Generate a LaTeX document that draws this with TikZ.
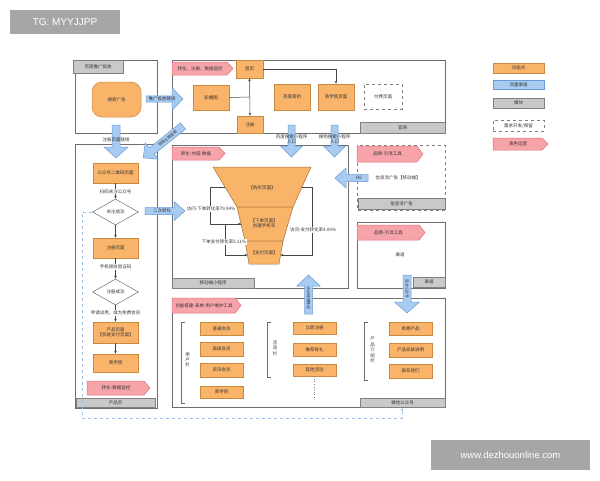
\documentclass[tikz,border=0pt]{standalone}
\usepackage{fontspec}
\newfontfamily\cjk{Noto Sans CJK SC}
\newfontfamily\wmfont{Liberation Sans}
\usetikzlibrary{arrows.meta,shapes.geometric}
\definecolor{ofill}{HTML}{F9B46A}
\definecolor{obord}{HTML}{C98A40}
\definecolor{bfill}{HTML}{A8CBF2}
\definecolor{bbord}{HTML}{6A9BD3}
\definecolor{gfill}{HTML}{C9C9C9}
\definecolor{gbord}{HTML}{7F7F7F}
\definecolor{pfill}{HTML}{F6A4A9}
\definecolor{pbord}{HTML}{E0707B}
\definecolor{framec}{HTML}{6E6E6E}
\definecolor{dashblue}{HTML}{9DBFE6}
\definecolor{txtc}{HTML}{333333}
\definecolor{connc}{HTML}{444444}
\definecolor{wmgrey}{HTML}{A6A6A6}
\tikzset{
 frame/.style={draw=framec, line width=0.6pt},
 obx/.style={draw=obord, fill=ofill, line width=0.5pt, inner sep=0.5pt, align=center, text=txtc},
 gbx/.style={draw=gbord, fill=gfill, line width=0.5pt, inner sep=0pt, text=txtc},
 bbx/.style={draw=bbord, fill=bfill, line width=0.5pt, inner sep=0pt, text=txtc},
 dbx/.style={draw=gbord, dashed, line width=0.6pt, fill=white, inner sep=0pt, text=txtc},
 ptg/.style={draw=pbord, fill=pfill, line width=0.5pt},
 bar/.style={draw=bbord, fill=bfill, line width=0.5pt},
 lbl/.style={inner sep=0.5pt, text=txtc, align=center},
 wlbl/.style={lbl, fill=white},
 conn/.style={draw=connc, line width=0.5pt, -{Stealth[length=3pt,width=2.6pt]}},
 dconn/.style={draw=connc, line width=0.5pt, {Stealth[length=3pt,width=2.6pt]}-{Stealth[length=3pt,width=2.6pt]}},
 plain/.style={draw=connc, line width=0.5pt},
 dia/.style={diamond, draw=framec, fill=white, line width=0.5pt, inner sep=0pt, minimum width=46, minimum height=26, text=txtc},
 brk/.style={draw=framec, line width=0.6pt},
 funnel/.style={draw=obord!80!black, fill=ofill, line width=0.5pt},
 wm/.style={fill=wmgrey, text=white, inner sep=0pt, font=\wmfont},
}
\newcommand\obox[6]{\node[obx, minimum width={#4-#2}, minimum height={#5-#3}] (#1) at ({(#2+#4)/2},{(#3+#5)/2}) {#6};}
\newcommand\gbox[6]{\node[gbx, minimum width={#4-#2}, minimum height={#5-#3}] (#1) at ({(#2+#4)/2},{(#3+#5)/2}) {#6};}
\newcommand\ptag[6]{\draw[ptg] (#2,#3) -- ({#4-6},#3) -- (#4,{(#3+#5)/2}) -- ({#4-6},#5) -- (#2,#5) -- cycle;
 \node[lbl] (#1) at ({(#2+#4-5)/2},{(#3+#5)/2}) {#6};}
\newcommand\barrow[7]{%
 \begin{scope}[shift={(#2,#3)},rotate=#4]
 \draw[bar] (0,-#6) -- ({#5-11},-#6) -- ({#5-11},-#7) -- (#5,0) -- ({#5-11},#7) -- ({#5-11},#6) -- (0,#6) -- cycle;
 \coordinate (#1) at ({#5/2},0);
 \end{scope}}
\newcommand\brak[4]{\draw[brk] ({#2+4},#3) -- (#2,#3) -- (#2,#4) -- ({#2+4},#4);\coordinate (#1) at (#2,#3);}
\begin{document}
\begin{tikzpicture}[x=1pt,y=-1pt,font=\cjk\fontsize{4.5}{5.4}\selectfont]
\useasboundingbox[fill=white] (0,0) rectangle (600,480);

% watermarks
\node[wm, minimum width=110, minimum height=24, font=\wmfont\fontsize{10}{12}\selectfont] (wm1) at (65,22) {TG: MYYJJPP};
\node[wm, minimum width=159, minimum height=30, font=\wmfont\fontsize{9.5}{11}\selectfont] (wm2) at (510.5,455) {www.dezhouonline.com};

% ===== legend
\obox{lg1}{493}{63}{544}{73}{功能点}
\node[bbx, minimum width=51, minimum height=9] (lg2) at (518.5,84.5) {流量渠道};
\gbox{lg3}{493}{98}{544}{108}{模块}
\node[dbx, minimum width=51, minimum height=11] (lg4) at (518.5,125.5) {需求开发/保留};
\ptag{lg5}{493}{138}{548}{150}{角色运营}

% ===== box 1
\draw[frame] (75,60) rectangle (157,133);
\gbox{t1}{73}{60}{123}{73}{百度推广投放}
\node[obx, rounded corners=10pt, minimum width=49, minimum height=35] (ad) at (116.5,99.5) {搜索广告};

% ===== box 2 (官网)
\draw[frame] (172,60) rectangle (445,133);
\gbox{t2}{360}{122}{445}{133}{官网}
\ptag{p2}{172}{62}{233}{75}{转化、注册、数据监控}
\obox{home}{236}{60}{263}{78}{首页}
\obox{lunbo}{193}{85}{229}{110}{轮播图}
\obox{reg}{237}{116}{263}{133}{注册}
\obox{shq}{274}{84}{310}{110}{百度商桥}
\obox{sxy}{318}{84}{354}{110}{商学院页面}
\node[dbx, minimum width=38, minimum height=25] (pay) at (383,96.5) {付费页面};
\coordinate (jn) at (250,97);
\draw[plain] (lunbo.east) -- (jn);
\draw[dconn] (home.south) -- (reg.north);
\draw[conn] (home.east) -| (sxy.north);

% ===== box 3 (产品页)
\draw[frame] (75,144) rectangle (157,408);
\gbox{t3}{76}{398}{155}{407}{产品页}
\obox{qr}{93}{163}{138}{183}{公众号二维码页面}
\node[dia] (d1) at (115.5,212) {关注成功};
\obox{regp}{93}{238}{138}{258}{注册页面}
\node[dia] (d2) at (115.5,292) {注册成功};
\obox{prod}{93}{322}{138}{343}{产品页面\\【系统支付页面】}
\obox{sxy2}{93}{354}{138}{372}{商学院}
\ptag{p3}{87}{381}{150}{395}{转化-数据监控}
\draw[conn] (qr) -- (d1);
\draw[conn] (d1) -- (regp);
\draw[conn] (regp) -- (d2);
\draw[conn] (d2) -- (prod);
\draw[conn] (prod) -- (sxy2);
\node[wlbl] (l1) at (115.5,191.5) {扫码关注公众号};
\node[wlbl] (l2) at (115.5,267) {手机接收验证码};
\node[wlbl] (l3) at (115.5,313) {申请试用，成为免费会员};

% ===== box 4 (移动端小程序)
\draw[frame] (172,145) rectangle (348,288);
\gbox{t4}{172}{278}{254}{288}{移动端小程序}
\ptag{p4}{172}{147}{225}{160}{转化-内容-数据}
\draw[funnel] (213,167) -- (311,167) -- (293,207) -- (237,207) -- cycle;
\draw[funnel] (237,207) -- (293,207) -- (283,241) -- (245,241) -- cycle;
\draw[funnel] (245,241) -- (283,241) -- (279,264) -- (249,264) -- cycle;
\node[lbl] (f1) at (262,188) {【购买页面】};
\node[lbl] (f2) at (264,223) {【下单页面】\\创建手机号};
\node[lbl] (f3) at (264,253) {【支付页面】};
\coordinate (f1l) at (225,187);
\coordinate (f1r) at (302,187);
\coordinate (f2l) at (241,224);
\coordinate (f3l) at (247.5,255);
\coordinate (f3r) at (280.5,255);
\draw[conn] (f1l) -- (210,187) -- (210,224) -- (f2l);
\draw[conn] (f2l) -- (225,224) -- (225,255) -- (f3l);
\draw[conn] (f1r) -- (312,187) -- (312,255) -- (f3r);
\node[wlbl] (c1) at (211,209) {访问-下单转化率79.94\%};
\node[wlbl] (c2) at (224,242) {下单支付转化率5.11\%};
\node[wlbl] (c3) at (313,230) {访问-支付转化率4.09\%};

% ===== right boxes
\draw[frame, dashed, draw=gbord] (357,145) rectangle (445,210);
\ptag{p5}{357}{146}{423}{162}{品牌-引流工具}
\node[lbl] (xx) at (398,178) {信息流广告【移动端】};
\gbox{t5}{358}{198}{445}{209}{信息流广告}

\draw[frame] (357,222) rectangle (445,288);
\ptag{p6}{357}{225}{425}{240}{品牌-引流工具}
\node[lbl] (qd) at (400,255) {渠道};
\gbox{t6}{413}{277}{445}{287}{渠道}

% ===== box 5 (微信公众号)
\draw[frame] (172,298) rectangle (445,407);
\gbox{t7}{360}{398}{445}{407}{微信公众号}
\ptag{p7}{172}{298}{241}{313}{功能搭建-表单-用户维护工具}
\brak{b1}{181}{322}{403}
\node[lbl] (b1t) at (187.5,360) {用\\户\\栏};
\obox{m1}{200}{322}{243}{335}{普通会员}
\obox{m2}{200}{342}{243}{356}{高级会员}
\obox{m3}{200}{363}{243}{377}{资深会员}
\obox{m4}{200}{386}{243}{398}{商学院}
\brak{b2}{267}{322}{377}
\node[lbl] (b2t) at (275,348) {活\\动\\栏};
\obox{a1}{293}{322}{336}{334}{立即注册}
\obox{a2}{293}{343}{336}{356}{推荐有礼}
\obox{a3}{293}{364}{336}{376}{其他活动}
\coordinate (a3e) at (314.5,398);
\draw[draw=gbord, dotted, line width=0.6pt] (a3.south) -- (a3e);
\brak{b3}{364}{322}{380}
\node[lbl] (b3t) at (372.5,350) {产\\品\\介\\绍\\栏};
\obox{i1}{389}{322}{432}{335}{有哪产品}
\obox{i2}{389}{343}{432}{357}{产品安装说明}
\obox{i3}{389}{364}{432}{378}{联系我们}

% dashed feedback line
\coordinate (fb1) at (82,212);
\coordinate (fb2) at (82,418);
\coordinate (fb3) at (402,418);
\coordinate (fb4) at (402,408);
\draw[draw=dashblue, dashed, line width=0.6pt, -{Stealth[length=3pt,width=2.6pt]}] (d1.west) -- (fb1) -- (fb2) -- (fb3) -- (fb4);

% ===== blue flow arrows
\barrow{ar1}{146}{99}{0}{37}{3.2}{11.5}
\node[lbl] (ar1t) at (162,99) {推广投放链接};
\barrow{ar2}{116}{125}{-90}{33}{4}{12}
\node[lbl] (ar2t) at (116,140) {注册页面链接};
\barrow{ar3}{183}{126}{218.7}{51}{4}{10.5}
\node[lbl, rotate=38.7, font=\cjk\fontsize{3.8}{4.5}\selectfont] (ar3t) at (167.5,138.5) {官网注册链接};
\barrow{ar4}{145}{211}{0}{40}{3.5}{9.5}
\node[lbl] (ar4t) at (162,211) {二次转化};
\barrow{ar5}{291.5}{125}{-90}{32}{3.5}{11}
\node[lbl] (ar5t) at (291.5,139) {百度搜索小程序\\入口};
\barrow{ar6}{334.5}{125}{-90}{32}{3.5}{11}
\node[lbl] (ar6t) at (334.5,139) {搜狗搜索小程序\\入口};
\barrow{ar7}{368}{178}{180}{33}{3.5}{10}
\node[lbl] (ar7t) at (359,178) {H5};
\barrow{ar8}{308.5}{314}{90}{39}{4}{11.5}
\node[lbl, rotate=-90, font=\cjk\fontsize{3.8}{4.5}\selectfont] (ar8t) at (308.5,298) {活动链接推送};
\barrow{ar9}{407}{275}{-90}{38}{4}{12.5}
\node[lbl, rotate=-90, font=\cjk\fontsize{3.8}{4.5}\selectfont] (ar9t) at (407,289) {官方公众号};

\end{tikzpicture}
\end{document}
